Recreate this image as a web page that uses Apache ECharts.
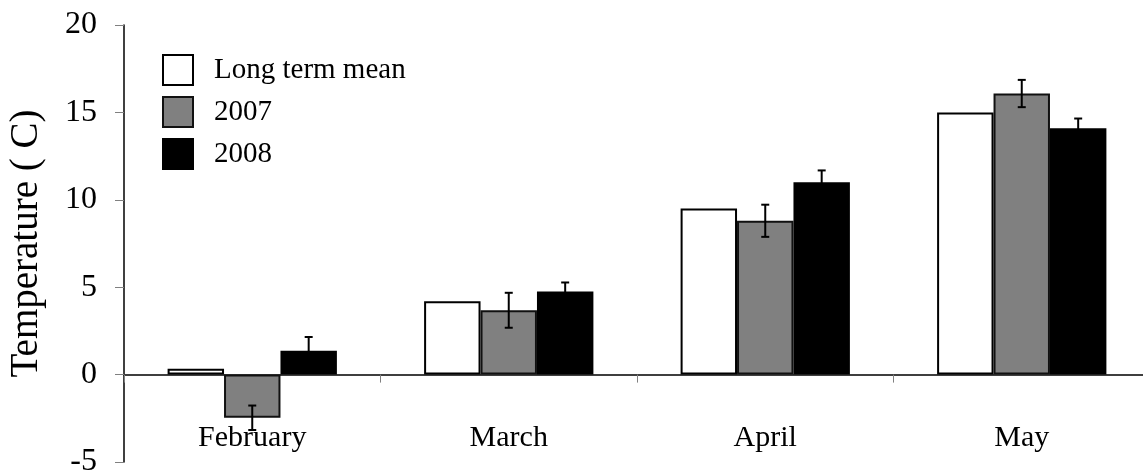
<!DOCTYPE html>
<html>
<head>
<meta charset="utf-8">
<script src="https://cdn.jsdelivr.net/npm/echarts@6/dist/echarts.min.js"></script>
<style>
html,body{margin:0;padding:0;background:#fff;}
#chart{width:1143px;height:473px;}
</style>
</head>
<body>
<div id="chart"></div>
<script>
const categories = ['February', 'March', 'April', 'May'];
const longTermMean = [0.33, 4.2, 9.5, 15.0];
const y2007 = [-2.47, 3.68, 8.8, 16.08];
const y2008 = [1.37, 4.75, 11.0, 14.1];
const err2007 = [0.7, 1.0, 0.92, 0.78];
const err2008 = [0.78, 0.52, 0.68, 0.55];
const yTicks = { min: -5, max: 20, interval: 5 };

const FONT = 'Liberation Serif';
const BAR_FRAC = 0.22;

function errSeries(values, errs, offset) {
  return {
    type: 'custom',
    z: 10,
    silent: true,
    data: values.map((v, i) => [i, v, errs[i]]),
    encode: { x: 0, y: 1 },
    renderItem: function (params, api) {
      const i = api.value(0), v = api.value(1), e = api.value(2);
      const c = api.coord([i, v]);
      const band = api.size([1, 0])[0];
      const x = c[0] + offset * band * BAR_FRAC;
      const top = api.coord([i, v + e])[1];
      const bot = api.coord([i, v - e])[1];
      const cw = 4;
      const st = { stroke: '#000', lineWidth: 2 };
      return {
        type: 'group',
        children: [
          { type: 'line', shape: { x1: x, y1: top, x2: x, y2: bot }, style: st },
          { type: 'line', shape: { x1: x - cw, y1: top, x2: x + cw, y2: top }, style: st },
          { type: 'line', shape: { x1: x - cw, y1: bot, x2: x + cw, y2: bot }, style: st }
        ]
      };
    }
  };
}

const chart = echarts.init(document.getElementById('chart'));
chart.setOption({
  animation: false,
  backgroundColor: '#fff',
  grid: { left: 124, top: 25, width: 1026, height: 437, containLabel: false, outerBoundsMode: 'none' },
  legend: {
    data: ['Long term mean', '2007', '2008'],
    orient: 'vertical',
    left: 157,
    top: 49,
    icon: 'rect',
    itemWidth: 30,
    itemHeight: 30,
    itemGap: 10,
    textStyle: { fontFamily: FONT, fontSize: 29, color: '#000', padding: [0, 0, 0, 16] }
  },
  xAxis: {
    type: 'category',
    data: categories,
    axisLine: { onZero: true, lineStyle: { color: '#000', width: 1.5 } },
    axisTick: { show: true, length: 8, lineStyle: { color: '#808080' } },
    axisLabel: { fontFamily: FONT, fontSize: 30, color: '#000', margin: -39 },
    splitLine: { show: false }
  },
  yAxis: {
    type: 'value',
    min: yTicks.min,
    max: yTicks.max,
    interval: yTicks.interval,
    name: 'Temperature ( C)',
    nameLocation: 'middle',
    nameRotate: 90,
    nameGap: 78,
    nameTextStyle: { fontFamily: FONT, fontSize: 39, color: '#000' },
    axisLine: { show: true, lineStyle: { color: '#000', width: 1.5 } },
    axisTick: { show: true, inside: false, length: 9, lineStyle: { color: '#808080' } },
    axisLabel: { fontFamily: FONT, fontSize: 32, color: '#000', margin: 27 },
    splitLine: { show: false }
  },
  series: [
    {
      name: 'Long term mean', type: 'bar', data: longTermMean,
      barWidth: (BAR_FRAC * 100) + '%', barGap: '0%',
      itemStyle: { color: '#fff', borderColor: '#000', borderWidth: 2 }
    },
    {
      name: '2007', type: 'bar', data: y2007,
      barWidth: (BAR_FRAC * 100) + '%', barGap: '0%',
      itemStyle: { color: '#808080', borderColor: '#111', borderWidth: 2 }
    },
    {
      name: '2008', type: 'bar', data: y2008,
      barWidth: (BAR_FRAC * 100) + '%', barGap: '0%',
      itemStyle: { color: '#000', borderColor: '#000', borderWidth: 2 }
    },
    errSeries(y2007, err2007, 0),
    errSeries(y2008, err2008, 1)
  ]
});
</script>
</body>
</html>
